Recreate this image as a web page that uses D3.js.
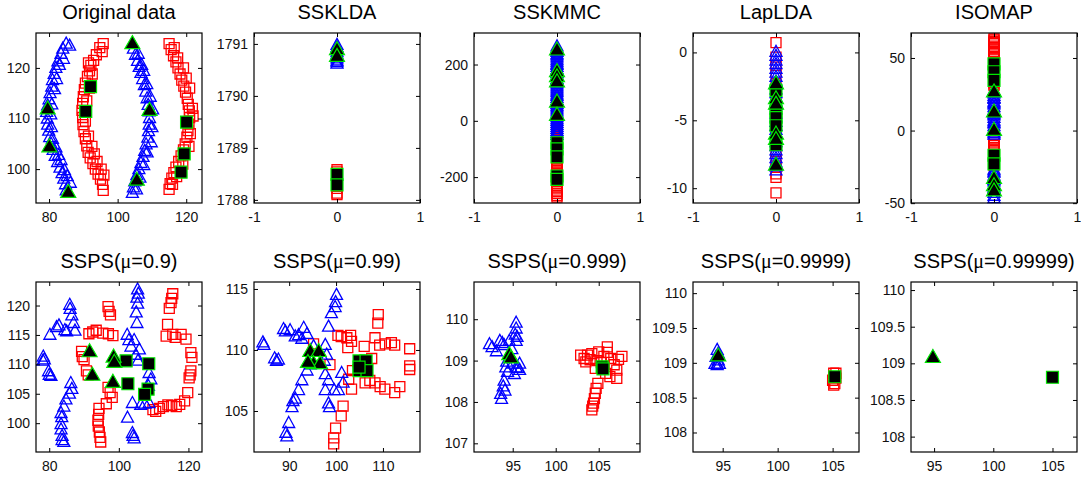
<!DOCTYPE html>
<html>
<head>
<meta charset="utf-8">
<script src="https://cdn.jsdelivr.net/npm/d3@7"></script>
<style>
  body { margin: 0; background: #fff; }
  text { font-family: "Liberation Sans", Arial, sans-serif; }
</style>
</head>
<body>
<svg id="fig" width="1081" height="479"></svg>
<script>
// ---- Original data (x, y) ----
const origBlue = [
  [85.0,125.0],[84.0,124.0],[83.5,123.0],[82.6,121.5],[82.0,120.2],[81.5,119.0],[81.0,117.8],[80.8,116.5],[80.3,115.2],[80.0,114.0],
  [79.6,112.8],[79.3,111.5],[79.5,110.2],[79.6,109.0],[79.9,107.8],[80.2,106.5],[80.6,105.2],[81.2,104.0],[81.8,102.8],[82.5,101.6],
  [83.2,100.5],[83.8,99.4],[84.3,98.3],[84.8,97.2],[85.0,96.0],
  [86.0,124.6],[84.2,122.0],[83.0,120.8],[82.2,118.0],[81.6,116.0],[80.8,113.0],[80.5,111.0],[80.7,108.5],[81.0,106.2],[82.0,104.5],
  [82.8,103.0],[83.5,102.0],[84.5,100.0],[85.3,98.8],[86.2,97.5],
  [104.6,124.0],[105.2,122.8],[105.8,121.6],[106.3,120.4],[106.8,119.2],[107.3,118.0],[107.8,116.8],[108.2,115.5],[108.6,114.2],[108.9,112.9],
  [109.2,111.6],[109.3,110.3],[109.2,109.0],[109.0,107.7],[108.8,106.4],[108.3,105.1],[107.9,103.8],[107.4,102.6],[106.8,101.4],[106.2,100.2],
  [105.6,99.0],[105.0,97.8],[104.6,96.6],[104.3,95.5],
  [106.0,123.0],[107.0,120.8],[107.6,119.6],[108.5,117.0],[109.5,114.5],[110.2,112.0],[110.0,108.5],[109.8,105.5],[108.6,103.5],[107.6,101.0],
  [106.5,98.5],[105.5,96.2]
];
const origRed = [
  [95.8,124.8],[94.8,124.0],[95.5,123.2],[93.8,122.6],[93.0,121.5],[92.2,120.5],[91.8,119.4],[91.2,118.3],[90.6,117.0],[90.3,115.7],
  [90.0,114.3],[89.8,113.0],[89.6,111.6],[89.8,110.2],[89.9,108.8],[90.2,107.4],[90.6,106.0],[91.0,104.6],[91.4,103.3],[92.0,102.2],
  [92.8,101.1],[93.5,100.0],[94.3,99.0],[95.0,98.0],[95.6,97.0],[95.8,95.8],
  [91.5,121.0],[92.6,118.8],[91.8,116.0],[91.0,113.5],[90.6,109.5],[91.5,106.5],[92.5,104.5],[93.2,103.0],[94.0,101.5],[95.2,100.0],[96.0,98.8],
  [115.0,124.8],[115.6,123.6],[116.3,122.4],[117.0,121.2],[117.6,120.0],[118.2,118.8],[118.7,117.6],[119.3,116.4],[119.8,115.2],[120.3,114.0],
  [120.6,112.8],[120.9,111.5],[121.0,110.2],[120.8,108.9],[120.5,107.6],[120.2,106.3],[119.7,105.0],[119.2,103.8],[118.5,102.6],[117.8,101.5],
  [117.0,100.4],[116.4,99.3],[115.8,98.2],[115.3,97.1],[115.0,96.0],
  [116.5,124.0],[117.5,122.0],[119.2,120.0],[120.0,118.0],[121.0,116.0],[121.8,112.0],[122.0,110.5],[121.2,107.0],[120.8,104.5],[119.0,101.0],
  [117.2,98.5],[116.0,97.0]
];
const origBlueL = [[104.3,125.1],[79.6,112.2],[80.1,104.7],[85.6,95.7],[109.3,111.9],[105.6,98.1]];
const origRedL = [[92.1,116.3],[90.7,111.4],[120.1,109.3],[119.4,103.0],[118.5,99.4]];
const origXDom = [76.2, 124.6], origYDom = [93.3, 126.9];
const origXTicks = [80, 100, 120], origYTicks = [100, 110, 120];

// ---- SSKLDA (y only, x = 0) ----
const ldaBlue = [1791.0,1790.96,1790.9,1790.86,1790.82,1790.78,1790.74,1790.7,1790.67,1790.64];
const ldaRed = [1788.58,1788.54,1788.5,1788.46,1788.42,1788.38,1788.34,1788.3,1788.26,1788.22,1788.13,1788.1];
const ldaBlueL = [1790.92, 1790.79];
const ldaRedL = [1788.49, 1788.29];
const ldaYDom = [1787.94, 1791.21], ldaYTicks = [1788, 1789, 1790, 1791];

// ---- SSKMMC ----
const kmmcBlue = [268,261,254,249,241,236,229,221,214,207,202,195,187,180,174,168,160,153,147,139,133,126,119,112,106,98,92,85,
  78,71,64,58,51,44,37,30,24,17,10,3,-4,-11,-18,-25,-32,-39,-46];
const kmmcRed = [-3,-9,-17,-24,-31,-38,-45,-52,-60,-68,-75,-86,-97,-108,-116,-131,-139,-146,-152,-158,-164,-170,-177,-185,-192,
  -213,-224,-231,-239,-246,-252,-259,-266,-271];
const kmmcBlueL = [257, 180, 162, 144, 72, 25];
const kmmcRedL = [-78, -100, -128, -196, -208];
const kmmcYDom = [-292, 312], kmmcYTicks = [-200, 0, 200];

// ---- LapLDA ----
const lapBlue = [0.12,-0.18,-0.52,-0.79,-1.13,-1.41,-1.72,-2.05,-2.31,-2.64,-2.93,-3.22,-3.55,-3.81,-4.12,-4.43,-4.71,-5.04,
  -5.33,-5.62,-5.94,-6.21,-6.53,-6.82,-7.13,-7.42,-7.71,-8.02,-8.31,-8.62];
const lapRed = [0.72,-0.35,-0.95,-1.55,-2.4,-3.1,-3.9,-4.6,-5.2,-5.9,-6.7,-7.3,-7.9,-8.35,-8.95,-9.2,-10.35];
const lapBlueL = [-2.2, -3.3, -3.7, -5.9, -6.3, -8.2];
const lapRedL = [-2.8, -4.3, -4.8, -5.4, -6.8];
const lapYDom = [-11.09, 1.43], lapYTicks = [-10, -5, 0];

// ---- ISOMAP ----
const isoBlue = [28.3,27.1,26.4,24.6,23.3,22.5,20.7,19.6,18.8,16.9,15.0,13.1,12.0,11.2,9.4,7.5,6.4,5.6,3.8,1.9,0.1,-1.0,-2.1,
  -26.2,-27.4,-28.3,-30.4,-32.1,-33.2,-34.3,-36.2,-38.4,-39.3,-40.1,-42.3,-44.2,-45.9];
const isoRed = [63.2,62.4,61.5,60.6,59.8,58.1,57.3,56.2,54.6,53.7,52.9,51.1,50.2,49.3,47.6,45.8,43.9,42.2,40.4,38.7,36.9,35.1,33.2,32.0,31.0,
  -5.8,-6.5,-7.9,-9.6,-10.4,-11.8,-13.9,-16.2,-18.7,-21.3,-24.1];
const isoBlueL = [27.7, 13.8, 1.2, -32, -37, -40.5];
const isoRedL = [46, 40.5, 34.6, -17, -23];
const isoYDom = [-49.9, 67.2], isoYTicks = [-50, 0, 50];

const zeroXDom = [-1, 1], zeroXTicks = [-1, 0, 1];

// ---- SSPS mu = 0.9 ----
const s9Blue = [
  [78.3,111.5],[78.6,111.0],[78.2,110.8],[79.8,109.0],[80.0,108.4],[80.5,108.2],
  [80.2,115.2],[82.1,116.5],[82.8,116.8],[84.5,116.0],[85.0,115.8],[87.4,115.9],
  [85.9,120.3],[86.0,119.6],[86.5,118.5],[87.0,117.2],
  [86.2,107.0],[86.5,106.0],[85.8,105.2],[84.8,104.2],[84.2,103.0],[83.4,101.9],[83.6,101.2],[83.4,100.0],[83.4,99.1],[83.7,98.0],[83.7,97.3],[84.2,97.0],
  [105.4,122.9],[105.6,122.2],[105.2,121.5],[105.4,120.5],[105.0,119.0],[105.2,117.2],[104.4,114.3],[103.5,113.2],[102.9,114.3],[102.4,115.2],
  [104.9,111.8],[105.9,112.7],[105.5,110.8],[108.7,108.7],[109.2,107.6],[108.5,106.5],[108.7,103.6],[107.5,103.5],[106.3,103.3],[103.9,103.6],
  [102.5,101.1],[103.9,98.5],[104.4,97.6],[104.1,98.0]
];
const s9Red = [
  [96.9,119.8],[97.2,119.0],[97.6,118.4],[98.3,114.9],[97.0,115.2],[95.4,115.3],[93.5,115.8],[92.5,115.5],[91.4,115.2],[89.3,112.2],
  [89.5,111.3],[90.0,110.8],[90.7,108.9],[91.2,108.2],[96.9,106.1],[97.5,105.2],[98.1,104.4],[96.4,103.3],[94.3,102.5],[94.2,101.5],
  [94.0,100.5],[94.1,99.5],[94.4,98.5],[94.6,97.6],[94.8,96.8],
  [115.5,122.0],[115.2,121.2],[115.0,120.5],[114.5,119.5],[114.0,116.8],[113.6,114.8],[115.5,115.1],[116.2,114.6],[117.9,115.1],[119.3,114.3],
  [120.7,112.0],[121.0,111.2],[120.7,108.9],[120.5,108.2],[120.2,107.7],[119.8,105.2],[118.9,103.8],[117.5,103.2],[116.5,102.8],[115.2,103.0],
  [114.1,103.1],[112.8,102.8],[111.7,102.5],[110.6,102.0],[109.8,102.3]
];
const s9BlueL = [[91.6,112.4],[92.4,108.4],[98.5,111.5],[98.7,110.6],[98.3,107.2]];
const s9RedL = [[102.1,110.6],[102.6,106.7],[108.6,110.1],[108.4,105.8],[107.4,104.9]];
const s9XDom = [76.2, 123.9], s9YDom = [95.1, 124.0];
const s9XTicks = [80, 100, 120], s9YTicks = [100, 105, 110, 115, 120];

// ---- SSPS mu = 0.99 ----
const s99Blue = [
  [84.4,110.7],[84.6,110.5],[86.9,109.4],[87.7,109.3],[87.3,109.2],[88.8,111.8],[89.2,111.6],[90.2,111.7],[91.3,111.2],[93.1,111.9],
  [92.7,111.0],[93.8,111.4],[92.0,111.3],
  [95.2,110.4],[97.7,110.5],[98.0,109.7],[98.4,112.0],[99.0,113.1],[99.9,114.0],[100.1,114.6],[99.8,113.6],
  [94.5,108.9],[93.8,108.4],[92.7,107.6],[92.0,106.8],[91.3,106.1],[90.6,105.4],[90.8,105.9],[89.9,104.1],[89.3,103.3],[89.5,103.0],
  [97.7,108.1],[98.4,107.6],[97.7,106.8],[98.4,105.7],[98.6,105.4],[101.2,108.2],[101.5,107.4],[99.6,106.8],[100.5,106.8],[97.5,109.2]
];
const s99Red = [
  [109.0,112.9],[108.9,112.2],[100.4,111.2],[101.1,111.1],[102.3,111.0],[103.1,111.2],[103.3,110.7],[102.5,110.2],[108.3,111.0],[109.3,110.4],
  [110.5,110.5],[111.8,110.6],[112.5,110.4],[115.7,110.1],[115.7,108.7],[115.7,108.4],[95.2,110.5],[98.7,108.8],[103.3,106.8],[102.7,107.6],
  [106.2,107.3],[107.2,107.5],[108.3,107.3],[109.4,107.0],[110.4,106.8],[112.5,106.5],[113.6,107.0],[101.5,105.4],[101.1,104.6],[99.9,103.6],
  [99.5,102.8],[99.5,102.3],[107.6,109.3],[106.0,110.3],[103.5,108.3]
];
const s99BlueL = [[94.5,110.0],[96.3,110.0],[95.2,109.0],[96.6,109.0],[94.0,109.1]];
const s99RedL = [[104.9,109.1],[106.4,109.1],[104.9,108.3],[106.6,108.3],[104.9,108.6]];
const s99XDom = [82.5, 117.9], s99YDom = [101.64, 115.57];
const s99XTicks = [90, 100, 110], s99YTicks = [105, 110, 115];

// ---- SSPS mu = 0.999 ----
const s999Blue = [
  [95.4,109.94],[95.4,109.8],[95.3,109.65],[95.4,109.5],[92.3,109.42],[92.6,109.35],[93.5,109.5],[93.8,109.45],[93.1,109.25],[94.0,109.4],
  [94.6,109.5],[95.8,108.95],[95.6,108.85],[95.4,108.86],[94.2,108.86],[94.4,108.75],[94.0,108.54],[93.9,108.4],[93.6,108.22],[93.7,108.1],
  [95.2,108.7],[95.8,108.8],[94.9,109.3],[94.3,109.0],[95.0,108.95],[94.1,108.3],[95.5,109.6]
];
const s999Red = [
  [102.9,109.13],[103.7,109.13],[104.2,109.17],[105.0,109.21],[106.0,109.33],[107.3,109.03],[107.7,109.1],[107.1,108.77],[107.1,108.57],
  [106.3,108.61],[105.8,108.69],[104.6,108.81],[103.5,108.97],[104.9,108.45],[104.6,108.21],[104.4,107.97],[104.2,107.81],[104.3,107.9],
  [103.3,109.05],[104.0,109.02],[104.8,109.0],[105.6,109.1],[106.4,109.05],[106.8,108.9],[106.0,109.2],[105.3,108.95],[104.7,108.33],[104.5,108.08]
];
const s999BlueL = [[94.6,109.18],[94.8,109.1]];
const s999RedL = [[105.4,108.85],[105.5,108.8]];
const s999XDom = [90.5, 109.8], s999YDom = [106.79, 110.9];
const s999XTicks = [95, 100, 105], s999YTicks = [107, 108, 109, 110];

// ---- SSPS mu = 0.9999 ----
const s9999Blue = [[94.5,109.2],[94.4,109.1],[94.6,109.05],[94.5,109.0],[94.3,109.0],[94.7,109.0],[94.5,108.98],[94.6,109.15]];
const s9999Red = [[105.1,108.85],[105.2,108.8],[105.0,108.75],[105.2,108.7],[105.3,108.85],[105.1,108.68],[105.3,108.78]];
const s9999BlueL = [[94.6,109.12]];
const s9999RedL = [[105.2,108.8]];
const s9999XDom = [92.3, 107.4], s9999YDom = [107.72, 110.16];

// ---- SSPS mu = 0.99999 ----
const s99999Blue = [[94.9,109.1]];
const s99999Red = [[105.0,108.81]];
const s99999BlueL = [[94.9,109.1]];
const s99999RedL = [[105.0,108.81]];
const s99999XDom = [93.05, 107.07], s99999YDom = [107.79, 110.11];
const fineXTicks = [95, 100, 105], fineYTicks = [108, 108.5, 109, 109.5, 110];

// layout
const colLeft = [36, 254, 474, 693, 911];
const rowTop = [33, 282];
const boxW = 166, boxH = 170;

const onAxis = ys => ys.map(v => [0, v]);

const panels = [
  {title: 'Original data', col: 0, row: 0, xDom: origXDom, yDom: origYDom, xTicks: origXTicks, yTicks: origYTicks,
   red: origRed, blue: origBlue, redL: origRedL, blueL: origBlueL},
  {title: 'SSKLDA', col: 1, row: 0, xDom: zeroXDom, yDom: ldaYDom, xTicks: zeroXTicks, yTicks: ldaYTicks,
   red: onAxis(ldaRed), blue: onAxis(ldaBlue), redL: onAxis(ldaRedL), blueL: onAxis(ldaBlueL)},
  {title: 'SSKMMC', col: 2, row: 0, xDom: zeroXDom, yDom: kmmcYDom, xTicks: zeroXTicks, yTicks: kmmcYTicks,
   red: onAxis(kmmcRed), blue: onAxis(kmmcBlue), redL: onAxis(kmmcRedL), blueL: onAxis(kmmcBlueL)},
  {title: 'LapLDA', col: 3, row: 0, xDom: zeroXDom, yDom: lapYDom, xTicks: zeroXTicks, yTicks: lapYTicks,
   red: onAxis(lapRed), blue: onAxis(lapBlue), redL: onAxis(lapRedL), blueL: onAxis(lapBlueL)},
  {title: 'ISOMAP', col: 4, row: 0, xDom: zeroXDom, yDom: isoYDom, xTicks: zeroXTicks, yTicks: isoYTicks,
   red: onAxis(isoRed), blue: onAxis(isoBlue), redL: onAxis(isoRedL), blueL: onAxis(isoBlueL)},
  {title: 'SSPS(μ=0.9)', col: 0, row: 1, xDom: s9XDom, yDom: s9YDom, xTicks: s9XTicks, yTicks: s9YTicks,
   red: s9Red, blue: s9Blue, redL: s9RedL, blueL: s9BlueL},
  {title: 'SSPS(μ=0.99)', col: 1, row: 1, xDom: s99XDom, yDom: s99YDom, xTicks: s99XTicks, yTicks: s99YTicks,
   red: s99Red, blue: s99Blue, redL: s99RedL, blueL: s99BlueL},
  {title: 'SSPS(μ=0.999)', col: 2, row: 1, xDom: s999XDom, yDom: s999YDom, xTicks: s999XTicks, yTicks: s999YTicks,
   red: s999Red, blue: s999Blue, redL: s999RedL, blueL: s999BlueL},
  {title: 'SSPS(μ=0.9999)', col: 3, row: 1, xDom: s9999XDom, yDom: s9999YDom, xTicks: fineXTicks, yTicks: fineYTicks,
   red: s9999Red, blue: s9999Blue, redL: s9999RedL, blueL: s9999BlueL},
  {title: 'SSPS(μ=0.99999)', col: 4, row: 1, xDom: s99999XDom, yDom: s99999YDom, xTicks: fineXTicks, yTicks: fineYTicks,
   red: s99999Red, blue: s99999Blue, redL: s99999RedL, blueL: s99999BlueL}
];

const svg = d3.select('#fig');
const green = '#00e600';

function triPath(w, h) {
  return `M0,${-h / 2}L${w / 2},${h / 2}L${-w / 2},${h / 2}Z`;
}
function sqPath(s) {
  return `M${-s / 2},${-s / 2}h${s}v${s}h${-s}Z`;
}

function drawMarks(g, data, x, y, path, stroke, fill, sw) {
  g.append('g')
    .selectAll('path')
    .data(data)
    .enter()
    .append('path')
    .attr('d', path)
    .attr('transform', d => `translate(${x(d[0])},${y(d[1])})`)
    .attr('fill', fill)
    .attr('stroke', stroke)
    .attr('stroke-width', sw);
}

function drawPanel(p) {
  const x0 = colLeft[p.col], y0 = rowTop[p.row];
  const x = d3.scaleLinear().domain(p.xDom).range([x0, x0 + boxW]);
  const y = d3.scaleLinear().domain(p.yDom).range([y0 + boxH, y0]);
  const g = svg.append('g');

  // markers: red squares, blue triangles, then the labelled ones
  drawMarks(g, p.red, x, y, sqPath(10), '#ff0000', 'none', 1.3);
  drawMarks(g, p.blue, x, y, triPath(12, 11), '#0000ff', 'none', 1.3);
  drawMarks(g, p.redL, x, y, sqPath(12), green, '#000', 1.2);
  drawMarks(g, p.blueL, x, y, triPath(15, 13), green, '#000', 1.2);

  // axes, ticks inside on all four sides
  const bottom = g.append('g').attr('transform', `translate(0,${y0 + boxH})`)
    .call(d3.axisBottom(x).tickValues(p.xTicks).tickSizeInner(-4).tickSizeOuter(0).tickPadding(9).tickFormat(d => String(d)));
  const left = g.append('g').attr('transform', `translate(${x0},0)`)
    .call(d3.axisLeft(y).tickValues(p.yTicks).tickSizeInner(-4).tickSizeOuter(0).tickPadding(6).tickFormat(d => String(d)));
  const top = g.append('g').attr('transform', `translate(0,${y0})`)
    .call(d3.axisTop(x).tickValues(p.xTicks).tickSizeInner(-4).tickSizeOuter(0).tickFormat(''));
  const right = g.append('g').attr('transform', `translate(${x0 + boxW},0)`)
    .call(d3.axisRight(y).tickValues(p.yTicks).tickSizeInner(-4).tickSizeOuter(0).tickFormat(''));

  [bottom, left, top, right].forEach(a => {
    a.select('.domain').remove();
    a.selectAll('.tick line').attr('stroke', '#000');
    a.selectAll('.tick text')
      .attr('font-family', '"Liberation Sans", Arial, sans-serif')
      .attr('font-size', 14)
      .attr('fill', '#111');
  });

  g.append('rect')
    .attr('x', x0).attr('y', y0)
    .attr('width', boxW).attr('height', boxH)
    .attr('fill', 'none')
    .attr('stroke', '#000')
    .attr('stroke-width', 1.2);

  // title, mu in a serif face like the Symbol font
  const t = g.append('text')
    .attr('x', x0 + boxW / 2)
    .attr('y', y0 - 14)
    .attr('text-anchor', 'middle')
    .attr('font-size', 20)
    .attr('fill', '#000');
  const parts = p.title.split('μ');
  t.append('tspan').text(parts[0]);
  if (parts.length > 1) {
    t.append('tspan').attr('font-family', '"Liberation Serif", "DejaVu Serif", serif').text('μ');
    t.append('tspan').text(parts[1]);
  }
}

panels.forEach(drawPanel);
</script>
</body>
</html>
